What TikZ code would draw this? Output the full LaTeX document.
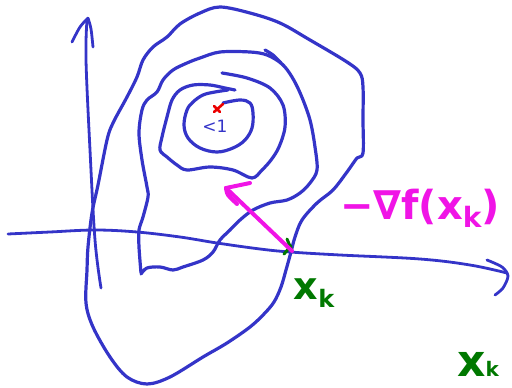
\documentclass[tikz,border=0pt]{standalone}
\usepackage{fontspec}
\newfontfamily\handfont{DejaVu Sans}
\definecolor{penblue}{RGB}{52,52,200}
\definecolor{penmag}{RGB}{240,20,230}
\definecolor{pengreen}{RGB}{0,120,0}
\definecolor{penred}{RGB}{235,0,0}
\begin{document}
\begin{tikzpicture}[x=1pt,y=-1pt,
  ink/.style={line width=3.2pt, draw=penblue, line cap=round, line join=round},
  axisink/.style={ink, line width=2.8pt},
  maginks/.style={line width=4pt, draw=penmag, line cap=round, line join=round},
  greenink/.style={line width=3pt, draw=pengreen, line cap=round},
  redink/.style={line width=2.6pt, draw=penred, line cap=round}]
\useasboundingbox (0,0) rectangle (512,388);
\clip (0,0) rectangle (512,388);

% axes
\coordinate (ytop) at (87,20);
\coordinate (ybot) at (101,288);
\coordinate (xleft) at (8,234);
\coordinate (xright) at (507,273);
\draw[axisink] plot[smooth, tension=0.6] coordinates {(ybot) (95,240) (90,150) (86,60) (ytop)};
\draw[axisink] plot[smooth] coordinates {(72,42) (80,27) (88,18)};
\draw[axisink] plot[smooth] coordinates {(88,18) (91,29) (93,47)};
\draw[axisink] plot[smooth, tension=0.6] coordinates {(xleft) (50,232) (95,230) (137,232) (180,237) (217,243) (260,249) (290,252) (340,255) (420,259) (470,265) (xright)};
\draw[axisink] plot[smooth] coordinates {(487,260) (502,267) (508,276) (503,288) (495,295)};

% outer closed contour
\draw[ink] plot[smooth cycle, tension=0.55] coordinates {
 (200,13) (220,7) (250,13) (280,23) (310,40) (347,62) (360,73) (363,87)
 (363,120) (363,153) (357,158) (347,172) (333,190) (317,203) (302,220)
 (295,237) (291,252) (286,270) (281,287) (274,302) (264,314) (250,327)
 (227,343) (203,357) (170,377) (147,384) (127,377) (110,357) (93,327)
 (86,303) (87,270) (88,247) (92,213) (98,185) (107,140) (113,123)
 (127,97) (137,77) (143,60) (153,47) (167,37) (180,24)};

% second contour (open)
\draw[ink] plot[smooth, tension=0.55] coordinates {
 (141,273) (139,247) (139,230) (143,217) (148,197) (147,187) (142,160)
 (139,133) (142,110) (147,100) (157,92) (163,80) (173,70) (187,63)
 (200,58) (220,52) (250,52) (267,55) (282,64) (292,77) (301,95)
 (310,120) (315,147) (317,170) (310,183) (300,193) (287,200) (270,203)
 (253,210) (240,220) (230,230) (220,240) (213,252) (203,260) (183,267)
 (173,270) (160,267) (147,268) (141,274)};
\draw[ink] plot[smooth] coordinates {(265,50) (273,55) (281,63)};

% third contour (spiral)
\draw[ink] plot[smooth, tension=0.55] coordinates {
 (235,90) (225,88) (210,85) (193,85) (180,90) (172,100) (167,117)
 (162,137) (160,150) (167,157) (177,165) (187,170) (210,167) (233,170)
 (252,178) (262,170) (271,160) (279,147) (285,127) (283,105) (270,88)
 (247,78) (222,73)};

% inner contour
\draw[ink] plot[smooth, tension=0.6] coordinates {
 (223,103) (240,100) (250,103) (253,113) (252,128) (245,140) (233,148)
 (217,152) (200,148) (188,138) (184,125) (187,110) (193,102) (203,95)
 (215,92) (228,90)};

% minimum mark
\coordinate (xmin) at (218,108);
\draw[redink] (214,112) -- (223,104);
\draw[redink] (214,106) -- (220,112);
\node[text=penblue, font=\handfont\fontsize{17}{17}\selectfont, inner sep=0pt] (lt1) at (215,126) {<1};

% current point and gradient arrow
\coordinate (xk) at (292,251);
\coordinate (tip) at (226,188);
\draw[greenink] (287,239) -- (292,251);
\draw[greenink] (284,254) -- (291,246);
\draw[maginks] (xk) -- (tip);
\draw[maginks] (tip) -- (250,183);
\draw[maginks] plot[smooth] coordinates {(tip) (228,195) (237,204)};

% labels
\node[text=penmag, font=\handfont\bfseries\fontsize{40}{40}\selectfont, inner sep=0pt] (grad) at (420,208) {−∇f(x\raisebox{-0.2em}{\fontsize{28}{28}\selectfont k})};
\node[text=pengreen, font=\handfont\bfseries\fontsize{38}{38}\selectfont, inner sep=0pt] (lxk) at (314,293) {x\raisebox{-0.2em}{\fontsize{24}{24}\selectfont k}};
\node[text=pengreen, font=\handfont\bfseries\fontsize{44}{44}\selectfont, anchor=base west, inner sep=0pt] (lxk2) at (457,376) {x{\fontsize{20}{20}\selectfont k}};
\end{tikzpicture}
\end{document}
